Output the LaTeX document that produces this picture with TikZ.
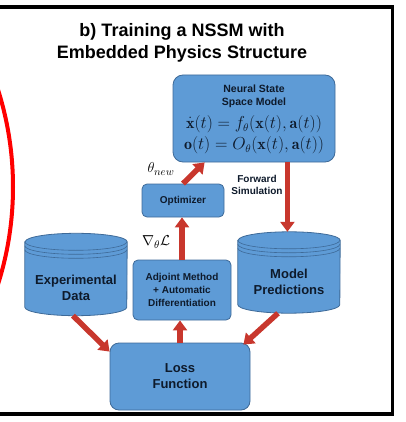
\documentclass[tikz,border=0pt]{standalone}
\usepackage{amsmath,amssymb,bm}
\usepackage{fontspec}
\newfontfamily\drawfont{Liberation Sans}
\usetikzlibrary{arrows.meta,positioning,calc}
\definecolor{BoxBlue}{HTML}{5E9BD6}
\definecolor{EdgeBlue}{HTML}{3E6A98}
\definecolor{Ink}{HTML}{0E1A2B}
\definecolor{ArrowRed}{HTML}{C8372D}
\definecolor{Ring}{HTML}{FF0000}
\tikzset{
  box/.style={draw=EdgeBlue,fill=BoxBlue,rounded corners=5pt,line width=.8pt,inner sep=0pt},
  lbl/.style={text=Ink,align=center,font=\drawfont\bfseries\fontsize{10}{13}\selectfont},
  big/.style={text=Ink,align=center,font=\drawfont\bfseries\fontsize{13}{16}\selectfont},
  mathlbl/.style={text=black,font=\fontsize{15}{18}\selectfont},
  flow/.style={-{Triangle[width=14pt,length=10pt]},draw=ArrowRed,line width=5.5pt},
  can/.style={draw=EdgeBlue,fill=BoxBlue,line width=.8pt},
}
\newcommand\dbcan[1]{%
  \draw[can] ([yshift=-8.5pt]#1.north west) -- ([yshift=8.5pt]#1.south west)
    arc[start angle=180,end angle=360,x radius=51pt,y radius=8.5pt]
    -- ([yshift=-8.5pt]#1.north east)
    arc[start angle=0,end angle=180,x radius=51pt,y radius=8.5pt] -- cycle;
  \foreach \r in {8.5,12.5,16.5}
    \draw[draw=EdgeBlue,line width=.6pt] ([yshift=-\r pt]#1.north west)
      arc[start angle=180,end angle=360,x radius=51pt,y radius=8.5pt];
}

\begin{document}
\begin{tikzpicture}[x=1pt,y=-1pt]
  \useasboundingbox (0,0) rectangle (405,422);
  \begin{scope}
    \clip (0,0) rectangle (405,422);
    \draw[Ring,line width=4pt] (-308,187) circle[radius=321pt];
  \end{scope}
  \draw[line width=3.5pt] (-5,7) -- (392.5,7) -- (392.5,414) -- (-5,414);

  \node[align=center,font=\drawfont\bfseries\fontsize{18}{22}\selectfont] (title) at (182,43)
    {b) Training a NSSM with\\Embedded Physics Structure};

  % neural state space model
  \node[box,rounded corners=10pt,minimum width=162pt,minimum height=87pt] (nssm) at (254,118.5) {};
  \node[lbl,inner sep=1pt,font=\drawfont\bfseries\fontsize{10.5}{13}\selectfont] (nssmname) at (254,96) {Neural State\\Space Model};
  \node[text=Ink,inner sep=0pt,font=\fontsize{16}{20}\selectfont] (eqone) at (254,124.5) {$\dot{\mathbf{x}}(t)=f_\theta(\mathbf{x}(t),\mathbf{a}(t))$};
  \node[text=Ink,inner sep=0pt,font=\fontsize{16}{20}\selectfont] (eqtwo) at (254,145.5) {$\mathbf{o}(t)=O_\theta(\mathbf{x}(t),\mathbf{a}(t))$};

  \node[box,lbl,minimum width=82pt,minimum height=33pt] (opt) at (183,200.5) {Optimizer};
  \node[box,lbl,minimum width=98pt,minimum height=60pt] (adj) at (182,290) {Adjoint Method\\+ Automatic\\Differentiation};
  \node[box,big,rounded corners=9pt,minimum width=140pt,minimum height=67pt] (loss) at (180,376.5) {Loss\\Function};

  % data stores
  \node[minimum width=102pt,minimum height=82pt] (exp) at (76,274.5) {};
  \dbcan{exp}
  \node[big] (exptext) at (76,287.5) {Experimental\\Data};
  \node[minimum width=102pt,minimum height=81pt] (pred) at (289,272.5) {};
  \dbcan{pred}
  \node[big] (predtext) at (289,282) {Model\\Predictions};

  \node[mathlbl] (thnew) at (161,169) {$\theta_{new}$};
  \node[mathlbl] (grad) at (156,242) {$\nabla_\theta\mathcal{L}$};
  \node[lbl,font=\drawfont\bfseries\fontsize{10}{12.5}\selectfont] (fwdlbl) at (257,185) {Forward\\Simulation};

  \draw[flow] (opt.north) -- ([xshift=32pt]nssm.south west);
  \coordinate (fwd) at ([xshift=-48pt]nssm.south east);
  \draw[flow] (fwd) -- (fwd |- pred.north);
  \draw[flow] (adj.north) -- (adj.north |- opt.south);
  \draw[flow] (loss.north) -- (loss.north |- adj.south);
  \draw[flow] ([xshift=-3pt]exp.south) -- ([yshift=-9pt]loss.north west);
  \draw[flow] ([xshift=-11pt]pred.south) -- ([xshift=-7pt,yshift=-2pt]loss.north east);
\end{tikzpicture}
\end{document}
